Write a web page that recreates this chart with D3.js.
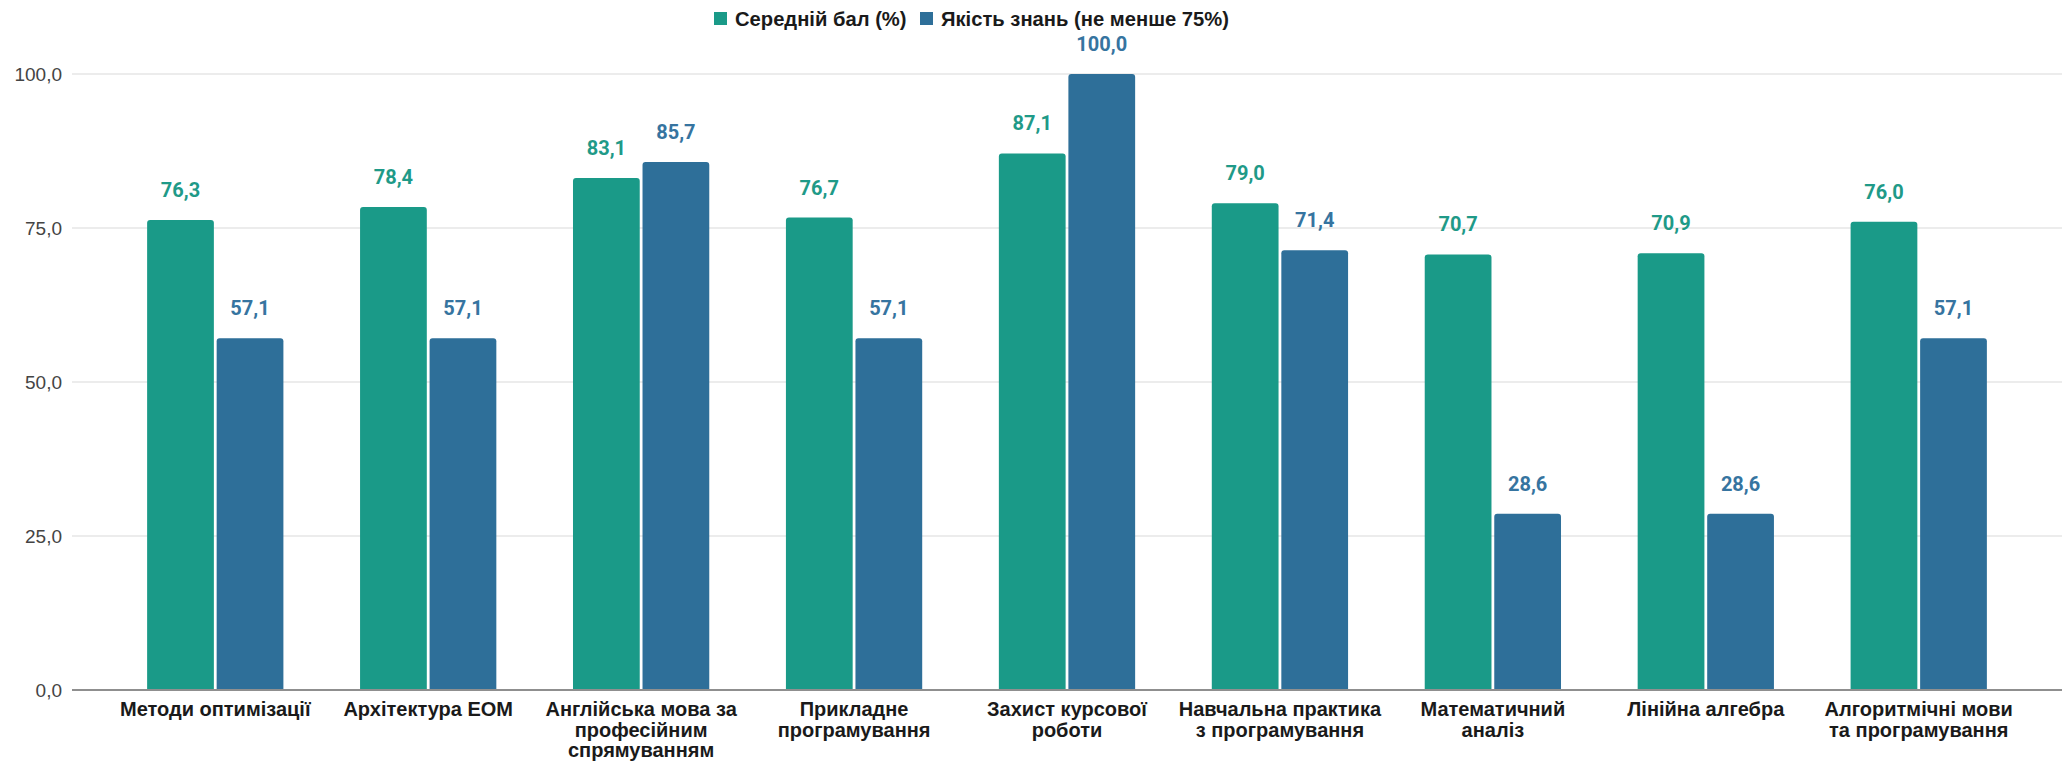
<!DOCTYPE html>
<html>
<head>
<meta charset="utf-8">
<script src="https://cdn.jsdelivr.net/npm/d3@7"></script>
<style>
  html, body { margin: 0; padding: 0; background: #fff; }
  svg { display: block; }
</style>
</head>
<body>
<script>
// ---- data ----
const categories = [
  ["Методи оптимізації"],
  ["Архітектура ЕОМ"],
  ["Англійська мова за", "професійним", "спрямуванням"],
  ["Прикладне", "програмування"],
  ["Захист курсової", "роботи"],
  ["Навчальна практика", "з програмування"],
  ["Математичний", "аналіз"],
  ["Лінійна алгебра"],
  ["Алгоритмічні мови", "та програмування"]
];
const seriesNames = ["Середній бал (%)", "Якість знань (не менше 75%)"];
const avgScore = [76.3, 78.4, 83.1, 76.7, 87.1, 79.0, 70.7, 70.9, 76.0];
const quality = [57.1, 57.1, 85.7, 57.1, 100.0, 71.4, 28.6, 28.6, 57.1];
const yTicks = [0, 25, 50, 75, 100];
const colors = ["#1a9a88", "#2e6f99"];
const labelColors = ["#1f9a88", "#3674a0"];

// ---- layout ----
const W = 2069, H = 763;
const mLeft = 72, mRight = 2062, mTop = 74, mBottom = 690;

const svg = d3.select("body").append("svg").attr("width", W).attr("height", H);

const keys = categories.map((c, i) => i);
const x0 = d3.scaleBand().domain(keys).range([mLeft, mRight]).paddingInner(0.36).paddingOuter(0.3528);
const x1 = d3.scaleBand().domain([0, 1]).range([0, x0.bandwidth()]).paddingInner(0.04);
const y = d3.scaleLinear().domain([0, 100]).range([mBottom, mTop]);

const fmt = v => d3.format(".1f")(v).replace(".", ",");

// grid
svg.append("g").selectAll("line").data(yTicks.filter(t => t > 0)).join("line")
  .attr("x1", mLeft).attr("x2", mRight)
  .attr("y1", d => y(d)).attr("y2", d => y(d))
  .attr("stroke", "#d9d9d9").attr("stroke-width", 1.2);

// y axis labels
const yAxis = d3.axisLeft(y).tickValues(yTicks).tickFormat(fmt).tickSize(0).tickPadding(10);
const ya = svg.append("g").attr("transform", `translate(${mLeft},0)`).call(yAxis);
ya.select(".domain").remove();
ya.selectAll("text")
  .attr("font-family", "'Liberation Sans', Arial, sans-serif")
  .attr("font-size", 19).attr("fill", "#444");

// bars
const series = [avgScore, quality];
const groups = svg.append("g").selectAll("g").data(keys).join("g")
  .attr("transform", d => `translate(${x0(d)},0)`);

function barPath(x, yTop, w, h, r) {
  r = Math.min(r, h);
  return `M${x},${yTop + h}V${yTop + r}Q${x},${yTop} ${x + r},${yTop}H${x + w - r}Q${x + w},${yTop} ${x + w},${yTop + r}V${yTop + h}Z`;
}

groups.selectAll("path").data(i => [0, 1].map(s => ({ s, v: series[s][i] }))).join("path")
  .attr("d", d => barPath(x1(d.s), y(d.v), x1.bandwidth(), y(0) - y(d.v), 3))
  .attr("fill", d => colors[d.s]);

groups.selectAll("text.val").data(i => [0, 1].map(s => ({ s, v: series[s][i] }))).join("text")
  .attr("class", "val")
  .attr("x", d => x1(d.s) + x1.bandwidth() / 2)
  .attr("y", d => y(d.v) - 23)
  .attr("text-anchor", "middle")
  .attr("font-family", "Roboto, sans-serif")
  .attr("font-weight", 700)
  .attr("font-size", 20)
  .attr("fill", d => labelColors[d.s])
  .text(d => fmt(d.v));

// baseline
svg.append("line").attr("x1", mLeft).attr("x2", mRight)
  .attr("y1", y(0)).attr("y2", y(0))
  .attr("stroke", "#8f8f8f").attr("stroke-width", 2.2);

// x labels
const xl = svg.append("g").selectAll("text").data(keys).join("text")
  .attr("x", d => x0(d) + x0.bandwidth() / 2)
  .attr("y", 716)
  .attr("text-anchor", "middle")
  .attr("font-family", "'Liberation Sans', Arial, sans-serif")
  .attr("font-weight", 700)
  .attr("font-size", 20)
  .attr("fill", "#1a1a1a");
xl.selectAll("tspan").data(d => categories[d].map(t => ({ t, x: x0(d) + x0.bandwidth() / 2 }))).join("tspan")
  .attr("x", d => d.x)
  .attr("dy", (d, i) => i === 0 ? 0 : 20.5)
  .text(d => d.t);

// legend
const legX = [714, 920];
const lg = svg.append("g").selectAll("g").data(seriesNames).join("g")
  .attr("transform", (d, i) => `translate(${legX[i]},12)`);
lg.append("rect").attr("width", 13).attr("height", 13).attr("fill", (d, i) => colors[i]);
lg.append("text").attr("x", 21).attr("y", 13.5)
  .attr("font-family", "'Liberation Sans', Arial, sans-serif")
  .attr("font-weight", 700).attr("font-size", 20.2).attr("fill", "#1a1a1a")
  .text(d => d);
</script>
</body>
</html>
